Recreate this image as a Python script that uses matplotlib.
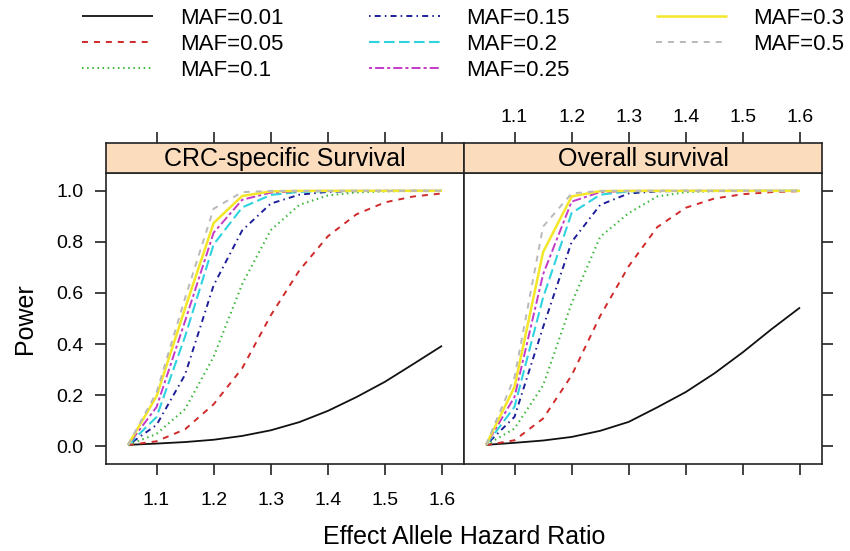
import matplotlib
matplotlib.use("Agg")
import matplotlib.pyplot as plt
from matplotlib.ticker import FixedLocator, NullFormatter

plt.rcParams['font.family'] = ['Liberation Sans', 'DejaVu Sans']
plt.rcParams['lines.scale_dashes'] = False

# Effect allele hazard ratio grid
hr = [1.05, 1.10, 1.15, 1.20, 1.25, 1.30, 1.35, 1.40, 1.45, 1.50, 1.55, 1.60]

maf_labels = ["MAF=0.01", "MAF=0.05", "MAF=0.1", "MAF=0.15",
              "MAF=0.2", "MAF=0.25", "MAF=0.3", "MAF=0.5"]

panel_titles = ["CRC-specific Survival", "Overall survival"]

# Power, CRC-specific survival
crc_001 = [0.005, 0.010, 0.016, 0.025, 0.040, 0.062, 0.094, 0.138, 0.192, 0.252, 0.322, 0.393]
crc_005 = [0.004, 0.019, 0.066, 0.164, 0.305, 0.512, 0.688, 0.822, 0.908, 0.955, 0.978, 0.990]
crc_010 = [0.004, 0.048, 0.145, 0.350, 0.635, 0.846, 0.945, 0.982, 0.994, 0.998, 1.000, 1.000]
crc_015 = [0.004, 0.083, 0.280, 0.630, 0.845, 0.950, 0.985, 0.996, 0.999, 1.000, 1.000, 1.000]
crc_020 = [0.004, 0.114, 0.430, 0.790, 0.935, 0.984, 0.996, 0.999, 1.000, 1.000, 1.000, 1.000]
crc_025 = [0.004, 0.153, 0.490, 0.836, 0.965, 0.993, 0.999, 1.000, 1.000, 1.000, 1.000, 1.000]
crc_030 = [0.004, 0.195, 0.540, 0.874, 0.980, 0.998, 1.000, 1.000, 1.000, 1.000, 1.000, 1.000]
crc_050 = [0.005, 0.210, 0.580, 0.930, 0.995, 1.000, 1.000, 1.000, 1.000, 1.000, 1.000, 1.000]

# Power, overall survival
os_001 = [0.005, 0.013, 0.022, 0.036, 0.060, 0.095, 0.152, 0.212, 0.285, 0.368, 0.458, 0.543]
os_005 = [0.004, 0.023, 0.108, 0.277, 0.510, 0.705, 0.858, 0.934, 0.970, 0.987, 0.995, 0.999]
os_010 = [0.004, 0.069, 0.238, 0.560, 0.820, 0.913, 0.978, 0.995, 0.999, 1.000, 1.000, 1.000]
os_015 = [0.004, 0.115, 0.466, 0.800, 0.945, 0.990, 0.998, 1.000, 1.000, 1.000, 1.000, 1.000]
os_020 = [0.004, 0.154, 0.582, 0.913, 0.985, 0.998, 1.000, 1.000, 1.000, 1.000, 1.000, 1.000]
os_025 = [0.004, 0.193, 0.673, 0.958, 0.995, 1.000, 1.000, 1.000, 1.000, 1.000, 1.000, 1.000]
os_030 = [0.004, 0.232, 0.760, 0.978, 0.999, 1.000, 1.000, 1.000, 1.000, 1.000, 1.000, 1.000]
os_050 = [0.005, 0.270, 0.860, 0.990, 1.000, 1.000, 1.000, 1.000, 1.000, 1.000, 1.000, 1.000]

crc_series = [crc_001, crc_005, crc_010, crc_015, crc_020, crc_025, crc_030, crc_050]
os_series = [os_001, os_005, os_010, os_015, os_020, os_025, os_030, os_050]

x_ticks = [1.1, 1.2, 1.3, 1.4, 1.5, 1.6]
x_ticklabels = ["1.1", "1.2", "1.3", "1.4", "1.5", "1.6"]
y_ticks = [0.0, 0.2, 0.4, 0.6, 0.8, 1.0]
y_ticklabels = ["0.0", "0.2", "0.4", "0.6", "0.8", "1.0"]

# R-style palette and line types (solid, dashed, dotted, dotdash, longdash, twodash)
colors = ["#111111", "#D02A2A", "#3DB83D", "#1E1E9A", "#2ED3E0", "#C43AC8", "#F4E628", "#B9B9B9"]
dashes = [None, (4.3, 4.3), (1.1, 2.6), (1.1, 3.0, 4.3, 3.0), (7.6, 3.2),
          (2.2, 2.2, 6.5, 2.2), None, (4.3, 4.3)]
widths = [1.3, 1.4, 1.5, 1.4, 1.5, 1.4, 1.8, 1.4]

W, H = 850, 551
fig = plt.figure(figsize=(W / 100, H / 100), dpi=100)

x0, x1 = 106, 464
top_strip, top_plot, bottom = 143, 173, 464


def fx(px):
    return px / W


def fy(py):
    return 1 - py / H


xlim = (1.05 - 0.07 * 0.55, 1.60 + 0.07 * 0.55)
ylim = (-0.07, 1.07)
frame_lw = 1.2
frame_col = "#222222"
tick_len = 8
label_size = 14
text_size = 18
legend_size = 16

panel_axes = []
for i, (series, title) in enumerate(zip([crc_series, os_series], panel_titles)):
    left = x0 if i == 0 else x1
    ax = fig.add_axes([fx(left), fy(bottom), fx(x1 - x0), (bottom - top_plot) / H])
    for k, ys in enumerate(series):
        ln, = ax.plot(hr, ys, color=colors[k], lw=widths[k], label=maf_labels[k],
                      solid_capstyle="butt", dash_capstyle="butt")
        if dashes[k] is not None:
            ln.set_dashes(dashes[k])
    ax.set_xlim(*xlim)
    ax.set_ylim(*ylim)
    for s in ax.spines.values():
        s.set_linewidth(frame_lw)
        s.set_color(frame_col)
    ax.xaxis.set_major_locator(FixedLocator(x_ticks))
    ax.yaxis.set_major_locator(FixedLocator(y_ticks))
    ax.tick_params(direction="out", length=tick_len, width=frame_lw, color=frame_col,
                   labelsize=label_size)
    ax.tick_params(axis="x", pad=12)
    ax.tick_params(axis="y", pad=8)
    if i == 0:
        ax.set_xticklabels(x_ticklabels)
        ax.set_yticklabels(y_ticklabels)
        ax.tick_params(axis="x", bottom=True, top=False, labelbottom=True)
        ax.tick_params(axis="y", left=True, right=False, labelleft=True)
    else:
        ax.xaxis.set_major_formatter(NullFormatter())
        ax.tick_params(axis="x", bottom=True, top=False, labelbottom=False)
        ax.tick_params(axis="y", left=False, right=True, labelleft=False, labelright=False)
    panel_axes.append(ax)

    # strip above the panel
    sx = fig.add_axes([fx(left), fy(top_plot), fx(x1 - x0), (top_plot - top_strip) / H])
    sx.set_facecolor("#FBDDBE")
    sx.set_xlim(*xlim)
    sx.set_ylim(0, 1)
    for s in sx.spines.values():
        s.set_linewidth(frame_lw)
        s.set_color(frame_col)
    sx.yaxis.set_visible(False)
    sx.xaxis.set_ticks_position("top")
    sx.xaxis.set_major_locator(FixedLocator(x_ticks))
    sx.tick_params(axis="x", direction="out", length=tick_len, width=frame_lw,
                   color=frame_col, labelsize=label_size, pad=4, top=True, bottom=False,
                   labelbottom=False)
    if i == 1:
        sx.set_xticklabels(x_ticklabels)
        sx.tick_params(axis="x", labeltop=True)
    else:
        sx.tick_params(axis="x", labeltop=False)
    sx.text(0.5, 0.47, title, transform=sx.transAxes, ha="center", va="center",
            fontsize=text_size)

fig.text(fx(464), fy(537), "Effect Allele Hazard Ratio", ha="center", va="center",
         fontsize=text_size)
fig.text(fx(25), fy(319), "Power", ha="center", va="center", rotation=90,
         fontsize=text_size)

handles = panel_axes[0].get_lines()
fig.legend(handles, maf_labels, ncol=3, loc="upper left",
           bbox_to_anchor=(fx(82), fy(8)), frameon=False, fontsize=legend_size,
           handlelength=3.2, handletextpad=1.2, columnspacing=3.85,
           labelspacing=0.22, borderaxespad=0, borderpad=0)

fig.savefig("out.png", dpi=100, facecolor="white")
